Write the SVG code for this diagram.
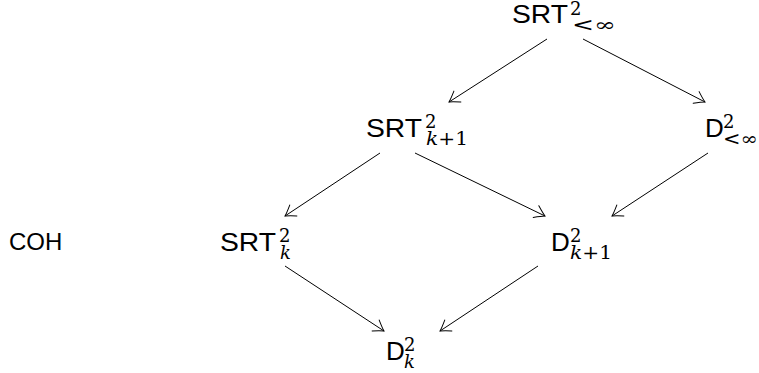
<svg xmlns="http://www.w3.org/2000/svg" width="759" height="373" viewBox="0 0 759 373">
<style>
.sf{font-family:"Liberation Sans","DejaVu Sans",sans-serif;font-size:26px;fill:#000}
.coh{font-family:"Liberation Sans","DejaVu Sans",sans-serif;font-size:24px;fill:#000}
.m{font-family:"DejaVu Serif","Liberation Serif",serif;font-size:18px;fill:#000}
.i{font-style:italic}
.c{stroke:#000;stroke-width:1;fill:none;marker-end:url(#to)}
</style>
<defs>
<marker id="to" markerUnits="userSpaceOnUse" viewBox="-12 -8 14 16" refX="0" refY="0" markerWidth="14" markerHeight="16" orient="auto" overflow="visible">
<path d="M-10,-6.5 Q-3,-1.5 0,0 Q-3,1.5 -10,6.5" fill="none" stroke="#000" stroke-width="1" stroke-linecap="round"/>
</marker>
</defs>
<g id="n-srt-inf">
<text class="sf" x="512" y="23" textLength="56" lengthAdjust="spacingAndGlyphs">SRT</text><text class="m" x="570" y="15">2</text><text class="m" x="572" y="31" textLength="44" lengthAdjust="spacingAndGlyphs">&lt;∞</text>
</g>
<g id="n-srt-k1">
<text class="sf" x="366" y="137" textLength="56" lengthAdjust="spacingAndGlyphs">SRT</text><text class="m" x="425" y="128">2</text><text class="m" x="426" y="145" textLength="42" lengthAdjust="spacingAndGlyphs"><tspan class="i">k</tspan>+1</text>
</g>
<g id="n-d-inf">
<text class="sf" x="705" y="137">D</text><text class="m" x="723" y="128">2</text><text class="m" x="723" y="145" textLength="35" lengthAdjust="spacingAndGlyphs">&lt;∞</text>
</g>
<g id="n-coh">
<text class="coh" x="9" y="250">COH</text>
</g>
<g id="n-srt-k">
<text class="sf" x="220" y="251" textLength="56" lengthAdjust="spacingAndGlyphs">SRT</text><text class="m" x="279" y="242">2</text><text class="m i" x="280" y="259">k</text>
</g>
<g id="n-d-k1">
<text class="sf" x="551" y="251">D</text><text class="m" x="570" y="242">2</text><text class="m" x="570" y="259" textLength="42" lengthAdjust="spacingAndGlyphs"><tspan class="i">k</tspan>+1</text>
</g>
<g id="n-d-k">
<text class="sf" x="386" y="360">D</text><text class="m" x="404" y="351">2</text><text class="m i" x="404" y="368">k</text>
</g>
<g id="connectors">
<line class="c" x1="547" y1="39" x2="449" y2="102"/>
<line class="c" x1="583" y1="39" x2="705" y2="102"/>
<line class="c" x1="380" y1="153" x2="285" y2="216"/>
<line class="c" x1="415" y1="153" x2="545" y2="216"/>
<line class="c" x1="708" y1="153" x2="612" y2="216"/>
<line class="c" x1="285" y1="266" x2="384" y2="331"/>
<line class="c" x1="538" y1="266" x2="440" y2="331"/>
</g>
</svg>
